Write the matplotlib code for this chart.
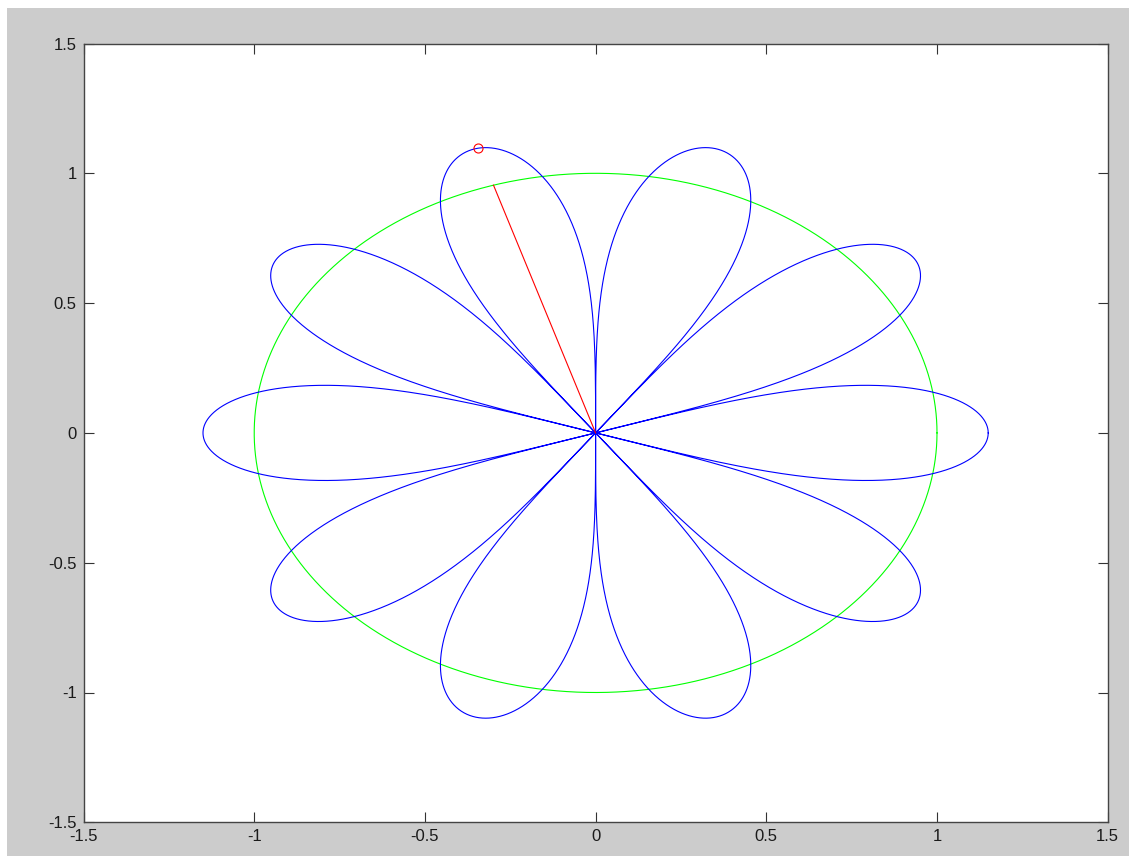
import numpy as np
import matplotlib
matplotlib.use("Agg")
import matplotlib.pyplot as plt
from matplotlib.patches import Rectangle

# ---- chart parameters ----
petal_count = 10          # number of petals of the rose
petal_length = 1.15       # tip radius of each petal
petal_exponent = 0.4      # fullness of the petals: r = L*|cos(k*theta)|^p
circle_radius = 1.0       # green reference circle
pointer_angle_deg = 107.4 # angle of the red radius / marker
axis_limits = [-1.5, 1.5]
x_ticks = [-1.5, -1, -0.5, 0, 0.5, 1, 1.5]
y_ticks = [-1.5, -1, -0.5, 0, 0.5, 1, 1.5]
x_tick_labels = ["-1.5", "-1", "-0.5", "0", "0.5", "1", "1.5"]
y_tick_labels = ["-1.5", "-1", "-0.5", "0", "0.5", "1", "1.5"]

plt.rcParams['font.family'] = ['Liberation Sans', 'DejaVu Sans']

fig = plt.figure(figsize=(11.29, 8.56), dpi=100)
fig.patch.set_facecolor('white')
fig.patches.append(Rectangle((7 / 1129, 0), 1, 1 - 8 / 856, transform=fig.transFigure,
                             facecolor='#cccccc', edgecolor='none', zorder=-10))

ax = fig.add_axes([83.5 / 1129, (856 - 822.3) / 856,
                   (1107.7 - 83.5) / 1129, (822.3 - 43.5) / 856])
ax.set_facecolor('white')

# rose curve
half_k = petal_count / 2
theta = np.linspace(0, 2 * np.pi, 6001)
r = petal_length * np.abs(np.cos(half_k * theta)) ** petal_exponent
ax.plot(r * np.cos(theta), r * np.sin(theta), color='#0000ff', lw=0.8, zorder=2)

# circle
ax.plot(circle_radius * np.cos(theta), circle_radius * np.sin(theta),
        color='#00ff00', lw=0.8, zorder=1)

# red pointer
a = np.deg2rad(pointer_angle_deg)
ax.plot([0, circle_radius * np.cos(a)], [0, circle_radius * np.sin(a)],
        color='#ff0000', lw=0.8, zorder=3)
rm = petal_length * np.abs(np.cos(half_k * a)) ** petal_exponent
ax.plot([rm * np.cos(a)], [rm * np.sin(a)], 'o', mfc='none', mec='#ff0000',
        ms=6.5, mew=0.8, zorder=4)

ax.set_xlim(axis_limits)
ax.set_ylim(axis_limits)
ax.set_xticks(x_ticks)
ax.set_xticklabels(x_tick_labels)
ax.set_yticks(y_ticks)
ax.set_yticklabels(y_tick_labels)
ax.tick_params(direction='in', length=7, width=0.8, color='#333333',
               top=True, right=True, labelsize=12, labelcolor='#1a1a1a')
ax.tick_params(axis='x', pad=5)
ax.tick_params(axis='y', pad=5)
for s in ax.spines.values():
    s.set_color('#444444')
    s.set_linewidth(1.0)

fig.savefig('out.png', dpi=100, facecolor=fig.get_facecolor())
